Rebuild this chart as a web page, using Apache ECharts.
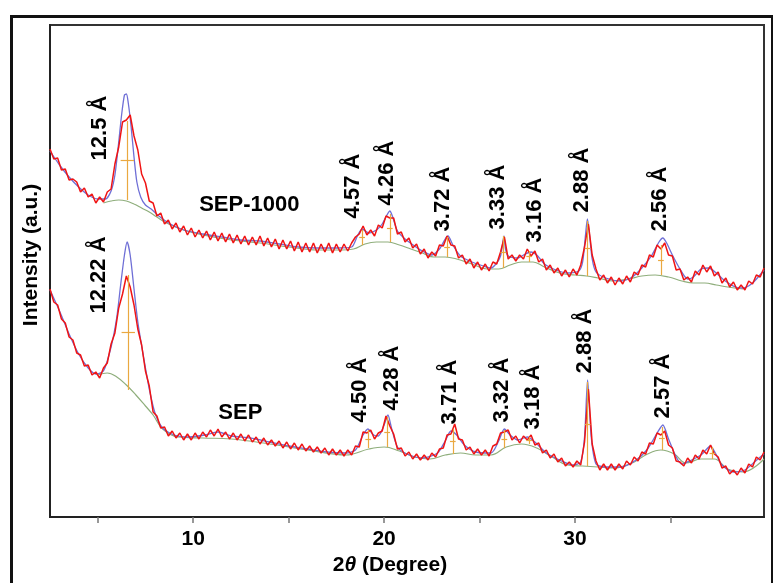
<!DOCTYPE html>
<html>
<head>
<meta charset="utf-8">
<script src="https://cdn.jsdelivr.net/npm/echarts@6/dist/echarts.min.js"></script>
<style>
html,body{margin:0;padding:0;background:#fff;}
#xrd{width:773px;height:583px;}
</style>
</head>
<body>
<div id="xrd"></div>
<script>
// sampling of the measured patterns (2theta, degree)
var angleStart = 2.5;
var angleStep = 0.2;

// SEP-1000 measured intensity (a.u., upper pattern)
var sep1000Counts = [368,358,359,347,348,337,338,335,325,329,320,323,314,320,315,325,328,353,370,395,
  397,402,381,367,343,334,316,314,301,304,293,297,288,294,285,291,282,289,280,287,
  279,286,277,285,276,284,275,283,274,282,273,281,272,280,272,281,271,279,270,278,
  268,277,268,276,266,275,265,274,265,274,264,273,265,274,264,273,265,273,266,274,
  280,283,291,282,287,281,292,289,301,299,299,283,285,275,279,269,273,263,268,259,
  265,261,272,271,281,272,271,259,262,253,258,249,255,247,253,246,255,253,265,280,
  258,262,256,262,258,268,261,266,255,258,247,252,244,249,241,247,240,248,242,252,
  270,293,262,248,237,242,234,240,232,239,233,241,235,245,242,252,250,262,260,272,
  268,274,262,261,247,248,237,240,235,246,242,252,245,251,241,245,234,239,230,235,
  227,232,227,236,233,242,240,249];

// SEP measured intensity (a.u., lower pattern)
var sepCounts = [228,215,212,198,194,180,177,164,162,151,152,142,145,139,149,154,173,184,209,223,
  241,230,212,188,172,146,131,105,101,89,90,81,86,79,84,77,83,77,84,78,
  85,80,87,81,88,80,85,78,84,77,83,76,82,75,80,73,79,72,77,71,
  76,69,75,68,74,67,73,66,71,65,70,64,69,62,68,62,67,61,67,62,
  71,70,85,84,87,78,84,86,101,91,83,68,69,61,65,58,63,57,62,57,
  64,60,68,69,82,83,93,78,77,67,70,63,68,62,67,61,71,73,84,85,
  87,77,81,74,81,77,82,72,74,64,67,59,63,55,59,51,55,50,56,52,
  75,128,73,56,47,53,47,53,47,53,48,56,52,60,56,65,63,74,73,84,
  82,86,72,69,56,55,51,59,54,62,58,67,63,72,63,60,49,51,43,47,
  42,49,44,53,50,60,57,65];

// profile fits [2theta, intensity]
var sep1000Fit = [[2.5,366],[3.0,352],[3.5,340],[4.0,330],[4.5,322],[5.0,318],[5.4,318],[5.7,326],[5.9,342],[6.1,375],
  [6.25,402],[6.4,422],[6.5,423],[6.6,414],[6.75,390],[6.9,360],[7.05,335],[7.25,320],[7.5,312],[7.8,308],
  [8.2,301],[8.8,293],[9.5,287],[10.5,283],[11.5,280],[12.5,277],[13.5,276],[14.5,273],[15.5,270],[16.5,269],
  [17.5,269],[18.3,270],[18.6,281],[18.85,288],[19.2,284],[19.6,287],[19.9,293],[20.15,302],[20.3,306],[20.45,300],
  [20.7,286],[21.1,278],[21.6,271],[22.0,266],[22.5,262],[22.9,268],[23.2,278],[23.35,281],[23.6,272],[24.0,261],
  [24.6,255],[25.2,251],[25.6,249],[25.9,254],[26.1,261],[26.2,272],[26.28,281],[26.36,268],[26.5,261],[27.0,259],
  [27.4,263],[27.7,265],[28.0,262],[28.4,253],[29.0,247],[29.6,244],[30.2,246],[30.4,255],[30.55,282],[30.65,298],
  [30.75,284],[30.9,258],[31.1,245],[31.6,239],[32.4,236],[33.0,240],[33.5,249],[34.0,261],[34.4,275],[34.6,279],
  [34.8,274],[35.1,262],[35.5,248],[35.9,238],[36.2,240],[36.6,248],[37.0,249],[37.4,244],[37.8,237],[38.4,230],
  [38.8,229],[39.3,234],[39.9,247]];
var sepFit = [[2.5,227],[3.0,206],[3.5,183],[4.0,163],[4.5,149],[4.9,143],[5.3,146],[5.7,170],[6.0,200],[6.2,232],
  [6.4,262],[6.54,275],[6.7,262],[6.9,228],[7.1,195],[7.4,160],[7.7,128],[8.0,104],[8.4,89],[9.0,82],
  [9.8,80],[10.6,82],[11.3,85],[12.0,81],[13.0,79],[14.0,75],[15.0,71],[16.0,68],[17.0,65],[18.0,64],
  [18.5,67],[18.9,82],[19.15,88],[19.45,82],[19.7,81],[20.0,92],[20.2,102],[20.4,88],[20.7,70],[21.2,63],
  [22.0,59],[22.8,64],[23.2,76],[23.5,86],[23.8,82],[24.2,72],[24.8,65],[25.6,64],[26.0,76],[26.3,88],
  [26.6,82],[27.0,77],[27.5,80],[27.9,75],[28.5,64],[29.3,56],[29.9,52],[30.3,55],[30.5,80],[30.66,137],
  [30.85,80],[31.1,53],[31.6,50],[32.4,50],[33.2,57],[33.8,68],[34.3,84],[34.6,92],[34.9,78],[35.3,60],
  [35.6,53],[36.0,56],[36.6,62],[37.1,71],[37.35,64],[37.7,52],[38.3,45],[38.9,47],[39.4,55],[39.9,63]];

// backgrounds
var sep1000Bg = [[5.3,314],[5.7,316],[6.1,317],[6.5,316],[6.9,313],[7.3,309],[7.7,305],[8.1,300],[8.6,294],[9.5,287],
  [10.5,282],[12,277],[13.5,274],[15,270],[16.5,267],[17.8,267],[18.4,268],[19.0,273],[19.6,275],[20.2,275],
  [20.8,272],[21.4,268],[22,264],[22.6,260],[23.2,260],[23.8,258],[24.6,253],[25.4,248],[26.0,248],[26.6,252],
  [27.2,255],[27.8,255],[28.4,250],[29.2,244],[30.0,242],[30.6,241],[31.2,239],[32.0,236],[32.8,238],[33.5,241],
  [34.2,242],[34.9,240],[35.6,236],[36.2,234],[36.8,234],[37.4,232],[38.0,230],[38.8,228]];
var sepBg = [[5.0,142],[5.5,144],[6.0,140],[6.5,132],[7.0,122],[7.5,111],[7.9,102],[8.4,88],[9.2,80],[10.5,79],
  [12,78],[14,73],[16,67],[18,62],[19.2,68],[20.0,70],[20.8,66],[21.6,60],[22.4,58],[23.2,62],
  [24.0,64],[24.8,62],[25.6,62],[26.4,70],[27.2,73],[28,69],[28.8,60],[29.6,52],[30.4,51],[31.2,50],
  [32,49],[33,54],[33.8,63],[34.5,67],[35.2,63],[35.8,54],[36.6,58],[37.3,58],[38,48],[38.8,45],[39.9,58]];

// peak position markers [2theta, base, top]
var sep1000Peaks = [[6.55,317,396],[18.85,272,287],[20.3,275,303],[23.3,260,280],[26.25,249,281],[27.6,255,266],[30.66,241,296],[34.5,242,272]];
var sepPeaks = [[6.6,127,242],[19.17,69,87],[20.16,70,100],[23.6,63,88],[26.3,69,87],[27.6,73,80],[30.66,51,135],[34.55,67,90],[37.2,58,70]];

// d-spacing labels
var sep1000Labels = ['12.5 Å','4.57 Å','4.26 Å','3.72 Å','3.33 Å','3.16 Å','2.88 Å','2.56 Å'];
var sep1000LabelAt = [[5.13,389],[18.39,331],[20.17,344],[23.10,318],[25.98,320],[27.92,307],[30.37,337],[34.45,318]];
var sepLabels = ['12.22 Å','4.50 Å','4.28 Å','3.71 Å','3.32 Å','3.18 Å','2.88 Å','2.57 Å'];
var sepLabelAt = [[5.05,242],[18.74,127],[20.42,139],[23.46,125],[26.18,127],[27.80,120],[30.53,176],[34.61,131]];
var sampleNames = ['SEP-1000','SEP'];
var sampleNameAt = [[12.94,312],[12.47,104]];

var FONT = "'Liberation Sans', Arial, sans-serif";

function toPairs(counts){
	var out = [];
	for (var i = 0; i < counts.length; i++) {
		out.push([+(angleStart + i * angleStep).toFixed(2), counts[i]]);
	}
	return out;
}
function markerLines(peaks){
	var list = [];
	for (var i = 0; i < peaks.length; i++) {
		var p = peaks[i];
		var half = (p[1] + p[2]) / 2;
		var w = i == 0 ? 0.35 : 0.15;
		list.push([{coord:[p[0], p[1]]}, {coord:[p[0], p[2]]}]);
		list.push([{coord:[p[0] - w, half]}, {coord:[p[0] + w, half]}]);
	}
	return list;
}
function labelData(names, at){
	var out = [];
	for (var i = 0; i < names.length; i++) {
		out.push({value:[at[i][0], at[i][1]], name:names[i]});
	}
	return out;
}

var myChart = echarts.init(document.getElementById('xrd'));
var labelStyle = {
	show:true, position:'inside', rotate:90,
	fontFamily:FONT, fontSize:22, fontWeight:'bold', color:'#000',
	textBorderWidth:0, textBorderColor:'transparent',
	formatter:function(p){ return p.name; }
};
var option = {
	animation:false,
	backgroundColor:'#fff',
	grid:{left:50, top:25, right:9, bottom:66, show:true, borderColor:'#333', borderWidth:2},
	xAxis:{
		type:'value', min:2.5, max:39.9,
		name:'2{t|θ} (Degree)', nameLocation:'middle', nameGap:38,
		nameTextStyle:{
			fontFamily:FONT, fontSize:21, fontWeight:'bold', color:'#000', padding:[0,34,0,0],
			rich:{t:{fontFamily:FONT, fontSize:21, fontWeight:'bold', fontStyle:'italic', color:'#000'}}
		},
		axisLine:{lineStyle:{color:'#222', width:2}},
		axisTick:{show:true, customValues:[5,10,15,20,25,30,35], length:6, lineStyle:{color:'#777', width:1.5}},
		axisLabel:{customValues:[10,20,30], margin:12, fontFamily:FONT, fontSize:21, fontWeight:'bold', color:'#000'},
		splitLine:{show:false}
	},
	yAxis:{
		type:'value', min:0, max:492,
		name:'Intensity (a.u.)', nameLocation:'middle', nameGap:8,
		nameTextStyle:{fontFamily:FONT, fontSize:21, fontWeight:'bold', color:'#000', padding:[0,0,0,32]},
		axisLine:{show:true, lineStyle:{color:'#222', width:2}},
		axisTick:{show:false}, axisLabel:{show:false}, splitLine:{show:false}
	},
	graphic:[{
		type:'rect', left:9, top:14, shape:{width:761, height:620},
		style:{fill:'none', stroke:'#111', lineWidth:3}, silent:true
	}],
	series:[
		{type:'line', data:sep1000Bg, smooth:0.4, symbol:'none', z:1, lineStyle:{color:'#8fae7c', width:1.2}},
		{type:'line', data:sepBg, smooth:0.4, symbol:'none', z:1, lineStyle:{color:'#8fae7c', width:1.2}},
		{type:'line', data:sep1000Fit, smooth:0.25, symbol:'none', z:2, lineStyle:{color:'#6f6fd6', width:1.3}},
		{type:'line', data:sepFit, smooth:0.25, symbol:'none', z:2, lineStyle:{color:'#6f6fd6', width:1.3}},
		{type:'line', data:toPairs(sep1000Counts), symbol:'none', z:3, lineStyle:{color:'#f01414', width:1.5}},
		{type:'line', data:toPairs(sepCounts), symbol:'none', z:3, lineStyle:{color:'#f01414', width:1.5}},
		{type:'line', data:[], z:4,
			markLine:{silent:true, symbol:'none', label:{show:false},
				lineStyle:{color:'#eaa840', width:1.2, type:'solid'},
				data:markerLines(sep1000Peaks).concat(markerLines(sepPeaks))}},
		{type:'scatter', data:labelData(sep1000Labels, sep1000LabelAt).concat(labelData(sepLabels, sepLabelAt)),
			symbolSize:0, itemStyle:{color:'#000', opacity:1}, z:5, label:labelStyle},
		{type:'scatter', data:labelData(sampleNames, sampleNameAt),
			symbolSize:0, itemStyle:{color:'#000', opacity:1}, z:5,
			label:{show:true, position:'inside', fontFamily:FONT, fontSize:22, fontWeight:'bold', color:'#000',
				textBorderWidth:0, textBorderColor:'transparent',
				formatter:function(p){ return p.name; }}}
	]
};
myChart.setOption(option);
</script>
</body>
</html>
